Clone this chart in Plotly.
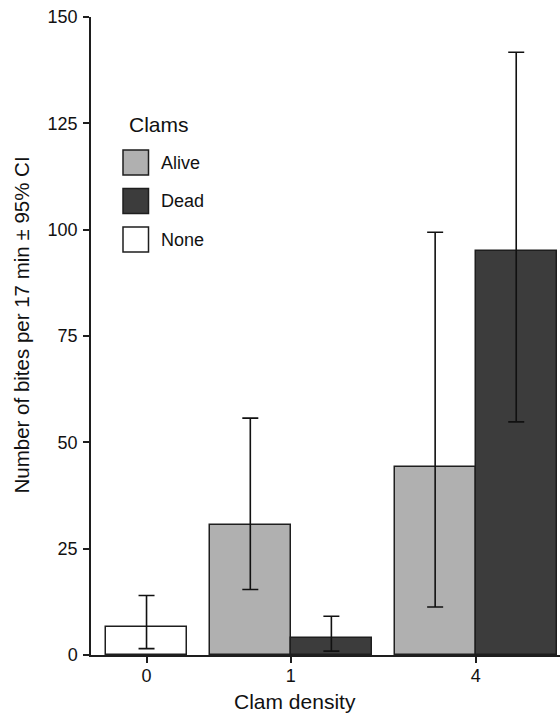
import plotly.graph_objects as go

# ---- data ----
categories = ["0", "1", "4"]
series = ["None", "Alive", "Dead"]
colors = {"Alive": "#b0b0b0", "Dead": "#3c3c3c", "None": "#ffffff"}
legend_order = ["Alive", "Dead", "None"]

mean_vals = {
    "None":  [6.7, None, None],
    "Alive": [None, 30.5, 44.2],
    "Dead":  [None, 4.0, 95.0],
}
ci_low = {
    "None":  [1.5, None, None],
    "Alive": [None, 15.4, 11.3],
    "Dead":  [None, 0.9, 54.8],
}
ci_high = {
    "None":  [14.0, None, None],
    "Alive": [None, 55.7, 99.4],
    "Dead":  [None, 9.1, 141.7],
}
y_ticks = [0, 25, 50, 75, 100, 125, 150]

# ---- layout of bars (sequential groups with gaps) ----
BAR_W = 1.0
GAP = 0.28
PAD_L = 0.185
PAD_R = 0.04

pos = {s: [None] * len(categories) for s in series}
group_centers = []
cursor = 0.0
for ci, cat in enumerate(categories):
    centers = []
    for s in series:
        if mean_vals[s][ci] is not None:
            c = cursor + BAR_W / 2
            pos[s][ci] = c
            centers.append(c)
            cursor += BAR_W
    group_centers.append(sum(centers) / len(centers))
    cursor += GAP
x_end = cursor - GAP + PAD_R

FONT = "Arial, Liberation Sans, sans-serif"
INK = "#111111"
fig = go.Figure()
for s in series:
    xs, ys, up, dn = [], [], [], []
    for ci in range(len(categories)):
        if mean_vals[s][ci] is None:
            continue
        xs.append(pos[s][ci])
        ys.append(mean_vals[s][ci])
        up.append(ci_high[s][ci] - mean_vals[s][ci])
        dn.append(mean_vals[s][ci] - ci_low[s][ci])
    fig.add_trace(go.Bar(
        x=xs, y=ys, width=BAR_W, name=s, showlegend=False,
        marker=dict(color=colors[s], line=dict(color="#1e1e1e", width=1.5)),
        error_y=dict(type="data", symmetric=False, array=up, arrayminus=dn,
                     color=INK, thickness=1.6, width=8),
    ))

# ---- page geometry ----
W, H = 560, 715
ML, MT, MR, MB = 91, 17, 0, 60
pw, ph = W - ML - MR, H - MT - MB


def px_x(p):  # screen px -> paper
    return (p - ML) / pw


def px_y(p):
    return (H - MB - p) / ph


shapes = []
annotations = []
annotations.append(dict(x=px_x(127), y=px_y(124), xref="paper", yref="paper",
                        text="Clams", showarrow=False, xanchor="left", yanchor="middle",
                        font=dict(family=FONT, size=21, color=INK)))
for i, s in enumerate(legend_order):
    cy = 162.5 + i * 38.5
    shapes.append(dict(type="rect", xref="paper", yref="paper",
                       x0=px_x(123), x1=px_x(148.5), y0=px_y(cy - 12.5), y1=px_y(cy + 12.5),
                       fillcolor=colors[s], line=dict(color="#1e1e1e", width=1.5)))
    annotations.append(dict(x=px_x(159), y=px_y(cy), xref="paper", yref="paper",
                            text=s, showarrow=False, xanchor="left", yanchor="middle",
                            font=dict(family=FONT, size=18, color=INK)))

# axis titles
annotations.append(dict(x=px_x(294.5), y=px_y(701), xref="paper", yref="paper",
                        text="Clam density", showarrow=False, xanchor="center", yanchor="middle",
                        font=dict(family=FONT, size=21, color=INK)))
annotations.append(dict(x=px_x(20.5), y=px_y(325), xref="paper", yref="paper",
                        text="Number of bites per 17 min ± 95% CI", textangle=-90,
                        showarrow=False, xanchor="center", yanchor="middle",
                        font=dict(family=FONT, size=20.5, color=INK)))

fig.update_layout(
    width=W, height=H,
    margin=dict(l=ML, r=MR, t=MT, b=MB, pad=0),
    plot_bgcolor="white", paper_bgcolor="white",
    font=dict(family=FONT, size=18, color=INK),
    bargap=0, barmode="overlay",
    shapes=shapes, annotations=annotations,
    xaxis=dict(range=[-PAD_L, x_end], tickmode="array", tickvals=group_centers,
               ticktext=categories, showgrid=False, zeroline=False,
               showline=True, linecolor="#1e1e1e", linewidth=1.5,
               ticks="outside", ticklen=6, tickwidth=1.5, tickcolor="#1e1e1e",
               ticklabelstandoff=-2, ticklabeloverflow="allow",
               tickfont=dict(family=FONT, size=18, color=INK), fixedrange=True),
    yaxis=dict(range=[0, 150], tickmode="array", tickvals=y_ticks,
               showgrid=False, zeroline=False,
               showline=True, linecolor="#1e1e1e", linewidth=1.5,
               ticks="outside", ticklen=6, tickwidth=1.5, tickcolor="#1e1e1e",
               ticklabelstandoff=2, ticklabeloverflow="allow",
               tickfont=dict(family=FONT, size=18, color=INK)),
)

fig.write_html("out.html", config={"displayModeBar": False},
               post_script="document.body.style.margin='0px';")
